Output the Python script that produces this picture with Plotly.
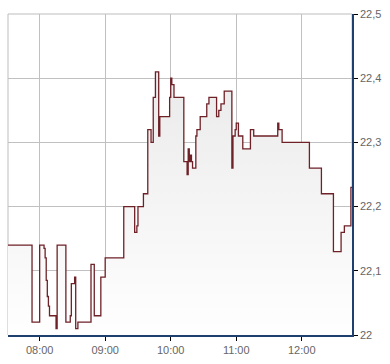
import plotly.graph_objects as go

# step data (time, price)
times = ["07:31", "07:53", "08:00", "08:04", "08:05", "08:06", "08:07", "08:08", "08:09",
         "08:15", "08:16", "08:24", "08:28", "08:29", "08:32", "08:33", "08:35", "08:47",
         "08:50", "08:56", "09:00", "09:17", "09:27", "09:29", "09:30", "09:35", "09:39",
         "09:42", "09:44", "09:46", "09:49", "09:50", "09:59", "10:00", "10:01", "10:03",
         "10:12", "10:15", "10:16", "10:17", "10:18", "10:19", "10:20", "10:23", "10:24",
         "10:27", "10:33", "10:35", "10:42", "10:44", "10:46", "10:49", "10:56", "10:57",
         "10:59", "11:00", "11:02", "11:06", "11:13", "11:16", "11:38", "11:39", "11:42",
         "12:07", "12:18", "12:29", "12:36", "12:39", "12:45", "12:46"]
prices = [22.14, 22.02, 22.14, 22.135, 22.12, 22.085, 22.06, 22.045, 22.03,
          22.01, 22.14, 22.02, 22.03, 22.08, 22.09, 22.01, 22.02, 22.11,
          22.03, 22.09, 22.12, 22.20, 22.16, 22.17, 22.20, 22.22, 22.32,
          22.30, 22.37, 22.41, 22.31, 22.34, 22.37, 22.40, 22.39, 22.37,
          22.27, 22.25, 22.29, 22.27, 22.28, 22.27, 22.26, 22.31, 22.32,
          22.34, 22.36, 22.37, 22.34, 22.35, 22.36, 22.38, 22.26, 22.31,
          22.32, 22.33, 22.31, 22.29, 22.32, 22.31, 22.33, 22.32, 22.30,
          22.26, 22.22, 22.13, 22.16, 22.17, 22.23, 22.23]

day = "2024-01-02 "
x = [day + t for t in times]

y_ticks = [22.0, 22.1, 22.2, 22.3, 22.4, 22.5]
y_labels = ["22", "22,1", "22,2", "22,3", "22,4", "22,5"]
x_ticks = ["08:00", "09:00", "10:00", "11:00", "12:00"]

fig = go.Figure()
fig.add_trace(go.Scatter(
    x=x, y=prices, mode="lines", line=dict(shape="hv", color="#6e2127", width=1.3),
    fill="tozeroy",
    fillgradient=dict(type="vertical", start=22.0, stop=22.5,
                      colorscale=[[0, "#ffffff"], [1, "#e6e6e6"]]),
    hoverinfo="skip", showlegend=False,
))

fig.add_shape(type="rect", xref="paper", yref="paper", x0=0, x1=1, y0=0, y1=1,
              line=dict(color="#bdbdbd", width=1), layer="below")

fig.update_layout(
    width=390, height=364,
    margin=dict(l=8, r=38, t=11, b=24),
    paper_bgcolor="white", plot_bgcolor="white",
    font=dict(family="Liberation Sans, Arial, sans-serif", size=11, color="#666666"),
    xaxis=dict(
        range=[x[0], x[-1]], type="date",
        tickvals=[day + t for t in x_ticks], ticktext=x_ticks,
        showgrid=True, gridcolor="#c0c0c0", gridwidth=1,
        showline=True, linecolor="#1f3f6f", linewidth=1.5,
        ticks="outside", ticklen=4, tickcolor="#000000",
        zeroline=False, fixedrange=True,
    ),
    yaxis=dict(
        range=[22.0, 22.5], side="right",
        tickvals=y_ticks, ticktext=y_labels,
        showgrid=True, gridcolor="#c0c0c0", gridwidth=1,
        showline=True, linecolor="#1f3f6f", linewidth=1.5,
        ticks="outside", ticklen=4, tickcolor="#000000",
        zeroline=False, fixedrange=True,
    ),
)

fig.write_html("out.html")
